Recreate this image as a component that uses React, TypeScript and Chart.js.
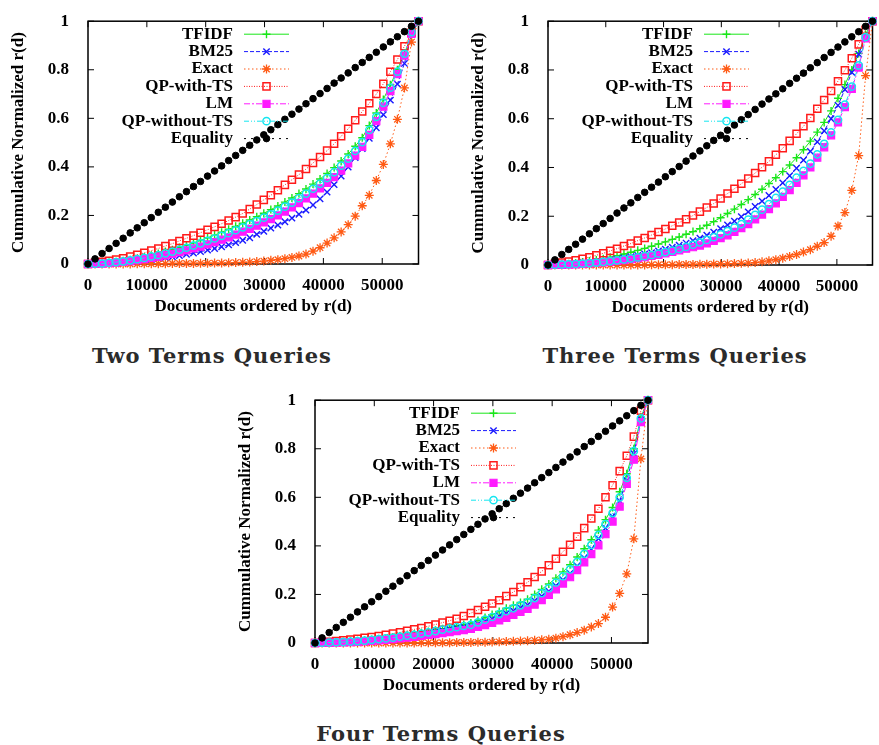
import React, { useEffect, useRef } from 'react';
import { Chart, registerables } from 'chart.js';
Chart.register(...registerables);

// ---------- data ----------
const docPositions = [0, 1195, 2390, 3585, 4780, 5975, 7170, 8365, 9560, 10755, 11950, 13145, 14340, 15535, 16730, 17925, 19120, 20315, 21510, 22705, 23900, 25095, 26290, 27485, 28680, 29875, 31070, 32265, 33460, 34655, 35850, 37045, 38240, 39435, 40630, 41825, 43020, 44215, 45410, 46605, 47800, 48995, 50190, 51385, 52580, 53775, 54970, 56165];
const xTickValues = [0, 10000, 20000, 30000, 40000, 50000];
const xTickLabels = ['0', '10000', '20000', '30000', '40000', '50000'];
const yTickValues = [0, 0.2, 0.4, 0.6, 0.8, 1];
const yTickLabels = ['0', '0.2', '0.4', '0.6', '0.8', '1'];
const seriesNames = ['TFIDF', 'BM25', 'Exact', 'QP-with-TS', 'LM', 'QP-without-TS', 'Equality'];
const panelTitles = ['Two Terms Queries', 'Three Terms Queries', 'Four Terms Queries'];

const equality = [0, 0.021, 0.043, 0.064, 0.085, 0.106, 0.128, 0.149, 0.17, 0.191, 0.213, 0.234, 0.255, 0.277, 0.298, 0.319, 0.34, 0.362, 0.383, 0.404, 0.426, 0.447, 0.468, 0.489, 0.511, 0.532, 0.553, 0.574, 0.596, 0.617, 0.638, 0.66, 0.681, 0.702, 0.723, 0.745, 0.766, 0.787, 0.809, 0.83, 0.851, 0.872, 0.894, 0.915, 0.936, 0.957, 0.979, 1];

// Two terms
const twoTfidf = [0, 0.001, 0.003, 0.006, 0.009, 0.013, 0.018, 0.023, 0.029, 0.036, 0.043, 0.051, 0.059, 0.068, 0.077, 0.087, 0.097, 0.108, 0.119, 0.131, 0.143, 0.155, 0.168, 0.181, 0.195, 0.209, 0.224, 0.239, 0.255, 0.272, 0.29, 0.309, 0.329, 0.35, 0.373, 0.397, 0.424, 0.453, 0.485, 0.52, 0.57, 0.622, 0.678, 0.738, 0.8, 0.868, 0.94, 1];
const twoBm25 = [0, 0.001, 0.002, 0.003, 0.005, 0.007, 0.009, 0.012, 0.015, 0.018, 0.022, 0.026, 0.03, 0.035, 0.04, 0.045, 0.051, 0.057, 0.064, 0.071, 0.079, 0.088, 0.098, 0.108, 0.122, 0.135, 0.148, 0.16, 0.174, 0.189, 0.205, 0.222, 0.243, 0.268, 0.296, 0.327, 0.362, 0.399, 0.438, 0.475, 0.518, 0.561, 0.615, 0.675, 0.741, 0.826, 0.945, 1];
const twoExact = [0, 0, 0, 0, 0, 0, 0, 0.001, 0.001, 0.001, 0.001, 0.001, 0.002, 0.002, 0.002, 0.002, 0.003, 0.003, 0.004, 0.004, 0.005, 0.006, 0.007, 0.008, 0.01, 0.012, 0.015, 0.018, 0.022, 0.027, 0.033, 0.041, 0.053, 0.067, 0.086, 0.108, 0.132, 0.162, 0.197, 0.24, 0.283, 0.344, 0.41, 0.495, 0.596, 0.725, 0.914, 1];
const twoQpTs = [0, 0.005, 0.009, 0.013, 0.018, 0.024, 0.031, 0.038, 0.046, 0.055, 0.064, 0.074, 0.084, 0.095, 0.106, 0.117, 0.129, 0.141, 0.153, 0.166, 0.179, 0.193, 0.208, 0.226, 0.245, 0.264, 0.283, 0.304, 0.326, 0.347, 0.368, 0.391, 0.416, 0.441, 0.467, 0.495, 0.526, 0.557, 0.592, 0.628, 0.662, 0.7, 0.742, 0.792, 0.842, 0.897, 0.952, 1];
const twoLm = [0, 0.001, 0.002, 0.004, 0.006, 0.009, 0.012, 0.016, 0.02, 0.025, 0.03, 0.036, 0.042, 0.049, 0.056, 0.064, 0.072, 0.081, 0.09, 0.1, 0.11, 0.121, 0.133, 0.145, 0.158, 0.171, 0.185, 0.2, 0.216, 0.233, 0.251, 0.27, 0.29, 0.311, 0.334, 0.358, 0.385, 0.414, 0.446, 0.482, 0.532, 0.588, 0.648, 0.712, 0.782, 0.858, 0.948, 1];
const twoQpNoTs = [0, 0.001, 0.002, 0.005, 0.008, 0.011, 0.015, 0.02, 0.025, 0.031, 0.037, 0.044, 0.051, 0.059, 0.067, 0.076, 0.085, 0.095, 0.105, 0.116, 0.127, 0.139, 0.151, 0.164, 0.177, 0.191, 0.205, 0.22, 0.236, 0.253, 0.271, 0.29, 0.31, 0.331, 0.354, 0.378, 0.405, 0.434, 0.466, 0.502, 0.552, 0.606, 0.664, 0.726, 0.792, 0.866, 0.955, 1];

// Three terms
const threeTfidf = [0, 0.001, 0.003, 0.005, 0.008, 0.012, 0.016, 0.021, 0.026, 0.032, 0.038, 0.045, 0.052, 0.06, 0.068, 0.077, 0.086, 0.095, 0.105, 0.115, 0.126, 0.137, 0.149, 0.163, 0.178, 0.194, 0.211, 0.229, 0.248, 0.268, 0.289, 0.311, 0.334, 0.358, 0.383, 0.41, 0.44, 0.473, 0.508, 0.545, 0.585, 0.632, 0.684, 0.74, 0.8, 0.868, 0.945, 1];
const threeBm25 = [0, 0.001, 0.002, 0.003, 0.005, 0.007, 0.01, 0.013, 0.016, 0.02, 0.024, 0.029, 0.034, 0.039, 0.045, 0.051, 0.058, 0.065, 0.073, 0.081, 0.09, 0.1, 0.11, 0.122, 0.135, 0.149, 0.164, 0.18, 0.198, 0.218, 0.24, 0.262, 0.285, 0.31, 0.337, 0.366, 0.397, 0.43, 0.466, 0.505, 0.55, 0.6, 0.655, 0.72, 0.79, 0.865, 0.94, 1];
const threeExact = [0, 0, 0, 0, 0, 0, 0, 0, 0, 0, 0, 0, 0, 0, 0, 0.001, 0.001, 0.001, 0.001, 0.002, 0.002, 0.002, 0.003, 0.003, 0.004, 0.004, 0.005, 0.006, 0.007, 0.008, 0.01, 0.013, 0.017, 0.022, 0.028, 0.035, 0.043, 0.053, 0.063, 0.077, 0.092, 0.118, 0.16, 0.215, 0.306, 0.449, 0.777, 1];
const threeQpTs = [0, 0.005, 0.01, 0.014, 0.019, 0.025, 0.032, 0.04, 0.048, 0.058, 0.067, 0.078, 0.088, 0.1, 0.111, 0.123, 0.135, 0.148, 0.161, 0.174, 0.188, 0.203, 0.219, 0.236, 0.252, 0.273, 0.293, 0.313, 0.333, 0.355, 0.377, 0.401, 0.425, 0.452, 0.479, 0.509, 0.538, 0.569, 0.603, 0.641, 0.677, 0.714, 0.754, 0.799, 0.848, 0.905, 0.965, 1];
const threeLm = [0, 0.001, 0.001, 0.002, 0.003, 0.005, 0.007, 0.009, 0.011, 0.014, 0.017, 0.02, 0.024, 0.028, 0.032, 0.037, 0.042, 0.048, 0.054, 0.06, 0.067, 0.073, 0.08, 0.089, 0.099, 0.11, 0.122, 0.136, 0.151, 0.168, 0.187, 0.207, 0.229, 0.253, 0.279, 0.307, 0.337, 0.368, 0.4, 0.44, 0.483, 0.532, 0.585, 0.648, 0.722, 0.81, 0.93, 1];
const threeQpNoTs = [0, 0.001, 0.002, 0.003, 0.004, 0.006, 0.008, 0.01, 0.013, 0.016, 0.019, 0.023, 0.027, 0.031, 0.036, 0.041, 0.047, 0.053, 0.059, 0.066, 0.074, 0.083, 0.093, 0.103, 0.114, 0.126, 0.139, 0.153, 0.168, 0.186, 0.206, 0.227, 0.25, 0.275, 0.301, 0.329, 0.358, 0.386, 0.416, 0.454, 0.497, 0.544, 0.595, 0.658, 0.732, 0.819, 0.935, 1];

// Four terms
const fourTfidf = [0, 0.001, 0.002, 0.003, 0.005, 0.007, 0.009, 0.011, 0.014, 0.017, 0.02, 0.024, 0.028, 0.032, 0.037, 0.042, 0.047, 0.053, 0.059, 0.064, 0.07, 0.076, 0.082, 0.093, 0.105, 0.117, 0.13, 0.143, 0.155, 0.167, 0.18, 0.2, 0.221, 0.243, 0.267, 0.293, 0.322, 0.354, 0.388, 0.425, 0.465, 0.508, 0.558, 0.623, 0.697, 0.8, 0.93, 1];
const fourBm25 = [0, 0.001, 0.002, 0.003, 0.004, 0.005, 0.007, 0.009, 0.012, 0.015, 0.018, 0.021, 0.025, 0.029, 0.033, 0.037, 0.042, 0.047, 0.052, 0.057, 0.062, 0.066, 0.07, 0.079, 0.089, 0.1, 0.111, 0.122, 0.133, 0.145, 0.157, 0.174, 0.193, 0.213, 0.236, 0.26, 0.287, 0.317, 0.35, 0.387, 0.43, 0.473, 0.52, 0.585, 0.67, 0.78, 0.92, 1];
const fourExact = [0, 0, 0, 0, 0, 0, 0, 0, 0, 0, 0, 0, 0, 0, 0, 0.001, 0.001, 0.001, 0.001, 0.001, 0.002, 0.002, 0.002, 0.003, 0.003, 0.004, 0.005, 0.006, 0.007, 0.008, 0.009, 0.011, 0.013, 0.015, 0.02, 0.026, 0.034, 0.043, 0.053, 0.066, 0.08, 0.106, 0.148, 0.204, 0.285, 0.429, 0.758, 1];
const fourQpTs = [0, 0.002, 0.005, 0.008, 0.011, 0.014, 0.017, 0.021, 0.025, 0.029, 0.034, 0.039, 0.044, 0.05, 0.056, 0.062, 0.069, 0.076, 0.084, 0.092, 0.1, 0.111, 0.123, 0.136, 0.149, 0.163, 0.176, 0.193, 0.21, 0.23, 0.25, 0.272, 0.295, 0.32, 0.347, 0.376, 0.405, 0.438, 0.473, 0.513, 0.553, 0.6, 0.65, 0.708, 0.771, 0.85, 0.957, 1];
const fourLm = [0, 0.001, 0.001, 0.002, 0.003, 0.004, 0.005, 0.007, 0.009, 0.011, 0.013, 0.016, 0.019, 0.022, 0.025, 0.029, 0.033, 0.037, 0.041, 0.045, 0.049, 0.053, 0.058, 0.066, 0.074, 0.083, 0.093, 0.104, 0.116, 0.128, 0.141, 0.158, 0.177, 0.198, 0.221, 0.245, 0.271, 0.3, 0.332, 0.366, 0.402, 0.448, 0.5, 0.562, 0.655, 0.755, 0.91, 1];
const fourQpNoTs = [0, 0.001, 0.002, 0.003, 0.004, 0.006, 0.008, 0.01, 0.013, 0.016, 0.019, 0.022, 0.026, 0.03, 0.034, 0.039, 0.044, 0.049, 0.055, 0.06, 0.065, 0.07, 0.075, 0.085, 0.096, 0.107, 0.119, 0.131, 0.143, 0.155, 0.167, 0.185, 0.205, 0.226, 0.249, 0.275, 0.303, 0.334, 0.367, 0.404, 0.445, 0.49, 0.535, 0.6, 0.68, 0.79, 0.925, 1];

// ---------- styles ----------
type MarkerStyle = {
  color: string;
  dash: number[];
  point: 'cross' | 'crossRot' | 'star' | 'rect' | 'circle';
  radius: number;
  filled: boolean;
  stroke: number;
  order: number;
};

const seriesStyles: MarkerStyle[] = [
  { color: '#19e619', dash: [], point: 'cross', radius: 4, filled: false, stroke: 1.4, order: 6 },
  { color: '#1a1aff', dash: [4, 2], point: 'crossRot', radius: 4.5, filled: false, stroke: 1.4, order: 5 },
  { color: '#ff5a14', dash: [1.5, 2.5], point: 'star', radius: 4.5, filled: false, stroke: 1.3, order: 4 },
  { color: '#ff1a1a', dash: [1, 1.5], point: 'rect', radius: 5, filled: false, stroke: 1.5, order: 3 },
  { color: '#ff1aff', dash: [6, 2, 2, 2], point: 'rect', radius: 5, filled: true, stroke: 1.2, order: 2 },
  { color: '#14e6f0', dash: [5, 2, 1, 2, 1, 2], point: 'circle', radius: 3.6, filled: false, stroke: 1.5, order: 1 },
  { color: '#000000', dash: [2, 5], point: 'circle', radius: 3.3, filled: true, stroke: 1, order: 0 },
];

const FONT = '"Liberation Serif", "Times New Roman", serif';

function drawMarker(ctx: CanvasRenderingContext2D, st: MarkerStyle, x: number, y: number) {
  const r = st.radius;
  ctx.save();
  ctx.setLineDash([]);
  ctx.strokeStyle = st.color;
  ctx.fillStyle = st.color;
  ctx.lineWidth = st.stroke;
  ctx.beginPath();
  if (st.point === 'cross' || st.point === 'star') {
    ctx.moveTo(x - r, y); ctx.lineTo(x + r, y);
    ctx.moveTo(x, y - r); ctx.lineTo(x, y + r);
  }
  if (st.point === 'crossRot' || st.point === 'star') {
    const d = r * Math.SQRT1_2;
    ctx.moveTo(x - d, y - d); ctx.lineTo(x + d, y + d);
    ctx.moveTo(x - d, y + d); ctx.lineTo(x + d, y - d);
  }
  if (st.point === 'rect') {
    const s = r * Math.SQRT1_2;
    ctx.rect(x - s, y - s, 2 * s, 2 * s);
    if (st.filled) ctx.fill();
  }
  if (st.point === 'circle') {
    ctx.arc(x, y, r, 0, Math.PI * 2);
    if (st.filled) ctx.fill();
  }
  ctx.stroke();
  ctx.restore();
}

const framePlugin = {
  id: 'gnuplotFrame',
  beforeDatasetsDraw(chart: any) {
    const { ctx, chartArea: a, scales } = chart;
    ctx.save();
    ctx.strokeStyle = '#000';
    ctx.lineWidth = 1;
    ctx.beginPath();
    for (const v of xTickValues) {
      const px = scales.x.getPixelForValue(v);
      ctx.moveTo(px, a.bottom); ctx.lineTo(px, a.bottom - 6);
      ctx.moveTo(px, a.top); ctx.lineTo(px, a.top + 6);
    }
    for (const v of yTickValues) {
      const py = scales.y.getPixelForValue(v);
      ctx.moveTo(a.left, py); ctx.lineTo(a.left + 6, py);
      ctx.moveTo(a.right, py); ctx.lineTo(a.right - 6, py);
    }
    ctx.stroke();
    ctx.lineWidth = 1.5;
    ctx.strokeRect(a.left, a.top, a.right - a.left, a.bottom - a.top);
    ctx.restore();
  },
  afterDatasetsDraw(chart: any) {
    const { ctx, chartArea: a } = chart;
    ctx.save();
    ctx.font = `bold 17px ${FONT}`;
    ctx.textAlign = 'right';
    ctx.textBaseline = 'middle';
    ctx.fillStyle = '#000';
    seriesNames.forEach((name, k) => {
      const y = a.top + 13 + k * 17.4;
      ctx.fillText(name, a.left + 145, y);
      const st = seriesStyles[k];
      ctx.strokeStyle = st.color;
      ctx.lineWidth = 1;
      ctx.setLineDash(st.dash);
      ctx.beginPath();
      ctx.moveTo(a.left + 156, y);
      ctx.lineTo(a.left + 201, y);
      ctx.stroke();
      ctx.setLineDash([]);
      drawMarker(ctx, st, a.left + 178.5, y);
    });
    ctx.restore();
  },
};

type PanelSpec = {
  left: number;
  top: number;
  width: number;
  height: number;
  padRight: number;
  series: number[][];
};

const panels: PanelSpec[] = [
  { left: 0, top: 0, width: 440, height: 330, padRight: 21.5, series: [twoTfidf, twoBm25, twoExact, twoQpTs, twoLm, twoQpNoTs, equality] },
  { left: 460, top: 0, width: 419, height: 331, padRight: 1, series: [threeTfidf, threeBm25, threeExact, threeQpTs, threeLm, threeQpNoTs, equality] },
  { left: 227, top: 379, width: 440, height: 330, padRight: 19, series: [fourTfidf, fourBm25, fourExact, fourQpTs, fourLm, fourQpNoTs, equality] },
];

function Panel({ spec }: { spec: PanelSpec }) {
  const ref = useRef<HTMLCanvasElement>(null);
  useEffect(() => {
    const datasets = spec.series.map((vals, k) => {
      const st = seriesStyles[k];
      return {
        label: seriesNames[k],
        data: docPositions.map((x, i) => ({ x, y: vals[i] })),
        showLine: true,
        borderColor: st.color,
        borderWidth: 1,
        borderDash: st.dash,
        pointStyle: st.point,
        pointRadius: st.radius,
        pointBorderColor: st.color,
        pointBackgroundColor: st.filled ? st.color : 'rgba(0,0,0,0)',
        pointBorderWidth: st.stroke,
        order: st.order,
        clip: false as any,
      };
    });
    const chart = new Chart(ref.current!, {
      type: 'scatter',
      data: { datasets },
      plugins: [framePlugin],
      options: {
        animation: false,
        responsive: false,
        devicePixelRatio: 1,
        layout: { padding: { top: 17, right: spec.padRight, left: 0, bottom: 0 } },
        plugins: { legend: { display: false }, tooltip: { enabled: false } },
        scales: {
          x: {
            type: 'linear',
            min: 0,
            max: docPositions[docPositions.length - 1],
            grid: { display: false },
            border: { display: false },
            afterBuildTicks: (s: any) => { s.ticks = xTickValues.map((v) => ({ value: v })); },
            afterFit: (s: any) => { s.height = 66; },
            ticks: {
              color: '#000',
              padding: 3,
              maxRotation: 0,
              autoSkip: false,
              font: { family: FONT, size: 17, weight: 'bold' },
              callback: (_v: any, i: number) => xTickLabels[i],
            },
            title: {
              display: true,
              text: 'Documents ordered by r(d)',
              color: '#000',
              font: { family: FONT, size: 17, weight: 'bold' },
              padding: { top: 0, bottom: 13 },
            },
          },
          y: {
            type: 'linear',
            min: 0,
            max: 1,
            grid: { display: false },
            border: { display: false },
            afterBuildTicks: (s: any) => { s.ticks = yTickValues.map((v) => ({ value: v })); },
            afterFit: (s: any) => { s.width = 88; },
            ticks: {
              color: '#000',
              padding: 11,
              autoSkip: false,
              font: { family: FONT, size: 17, weight: 'bold' },
              callback: (_v: any, i: number) => yTickLabels[i],
            },
            title: {
              display: true,
              text: 'Cummulative Normalized r(d)',
              color: '#000',
              font: { family: FONT, size: 17, weight: 'bold' },
              padding: { top: 8, bottom: 0 },
            },
          },
        },
      } as any,
    });
    return () => chart.destroy();
  }, [spec]);
  return (
    <canvas
      ref={ref}
      width={spec.width}
      height={spec.height}
      style={{ position: 'absolute', left: spec.left, top: spec.top, width: spec.width, height: spec.height }}
    />
  );
}

const subtitleSpots = [
  { cx: 212, baseline: 363 },
  { cx: 675, baseline: 363 },
  { cx: 441, baseline: 741 },
];

export default function App() {
  useEffect(() => {
    document.body.style.margin = '0';
  }, []);
  const fs = 21;
  return (
    <div style={{ position: 'relative', width: 879, height: 745, background: '#fff', overflow: 'hidden' }}>
      {panels.map((p, i) => (
        <Panel key={i} spec={p} />
      ))}
      {panelTitles.map((t, i) => (
        <div
          key={t}
          style={{
            position: 'absolute',
            left: subtitleSpots[i].cx,
            top: subtitleSpots[i].baseline - 0.846 * fs,
            transform: 'translateX(-50%)',
            whiteSpace: 'nowrap',
            fontFamily: '"DejaVu Serif", serif',
            fontWeight: 'bold',
            fontSize: fs,
            lineHeight: `${fs}px`,
            letterSpacing: '1px',
            color: '#2b2b2b',
          }}
        >
          {t}
        </div>
      ))}
    </div>
  );
}
